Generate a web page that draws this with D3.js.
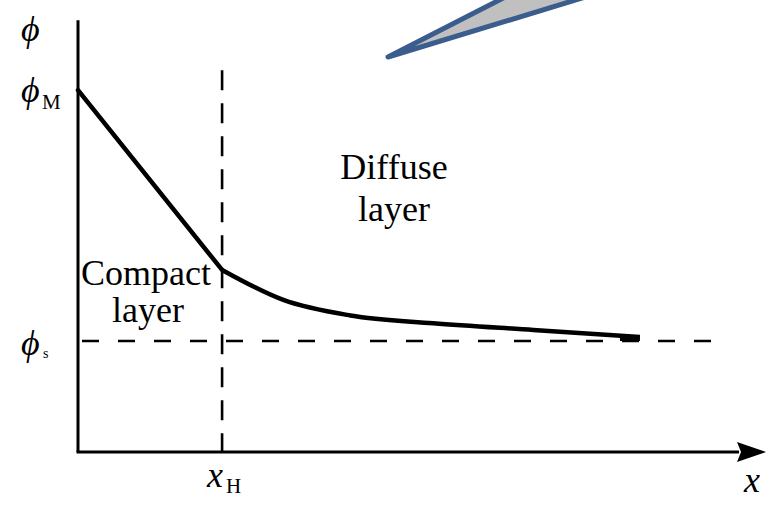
<!DOCTYPE html>
<html>
<head>
<meta charset="utf-8">
<script src="https://cdn.jsdelivr.net/npm/d3@7"></script>
<style>
  body { margin: 0; background: #fff; }
  svg { display: block; }
  text { font-family: "Liberation Serif", "Times New Roman", Times, "DejaVu Serif", serif; fill: #000; }
</style>
</head>
<body>
<div id="chart-container"></div>
<script>
// potential profile (arbitrary units)
const xH = 2.0;
const phiM = 3.26;
const phiS = 1.0;
const compactX = [0, 2.0];
const compactPhi = [3.26, 1.64];
const diffuseX = [2.0, 2.85, 3.78, 4.93, 6.32, 7.8];
const diffusePhi = [1.64, 1.37, 1.23, 1.16, 1.10, 1.036];
const xAxisMax = 9.55;
const yAxisMax = 3.89;
const guideEndX = 8.91;
const guideTopPhi = 3.44;

const svgWidth = 769;
const svgHeight = 505;

const svg = d3.select('#chart-container')
  .append('svg')
  .attr('width', svgWidth)
  .attr('height', svgHeight);

const xScale = d3.scaleLinear().domain([0, xAxisMax]).range([78, 766]);
const yScale = d3.scaleLinear().domain([0, 4]).range([452, 8]);

// pointer shape at the top
svg.append('polygon')
  .attr('points', '388,57 515,-8 615,-12')
  .attr('fill', '#c0c0c0')
  .attr('stroke', '#3a5d8d')
  .attr('stroke-width', 5)
  .attr('stroke-linejoin', 'round');

// dashed guides
svg.append('line')
  .attr('x1', xScale(xH)).attr('x2', xScale(xH))
  .attr('y1', yScale(guideTopPhi)).attr('y2', yScale(0))
  .attr('stroke', '#000').attr('stroke-width', 2.6)
  .attr('stroke-dasharray', '20,13');

svg.append('line')
  .attr('x1', xScale(0) + 4).attr('x2', xScale(guideEndX))
  .attr('y1', yScale(phiS)).attr('y2', yScale(phiS))
  .attr('stroke', '#000').attr('stroke-width', 2.6)
  .attr('stroke-dasharray', '17,19');

// axes
svg.append('line')
  .attr('x1', xScale(0)).attr('x2', xScale(0))
  .attr('y1', yScale(yAxisMax)).attr('y2', yScale(0))
  .attr('stroke', '#000').attr('stroke-width', 3);

const arrowLen = 29;
svg.append('line')
  .attr('x1', xScale(0) - 1.5).attr('x2', xScale(xAxisMax) - arrowLen + 2)
  .attr('y1', yScale(0)).attr('y2', yScale(0))
  .attr('stroke', '#000').attr('stroke-width', 3);

const tipX = xScale(xAxisMax), tipY = yScale(0);
svg.append('path')
  .attr('d', `M${tipX},${tipY} L${tipX - arrowLen},${tipY - 10} L${tipX - arrowLen + 4},${tipY} L${tipX - arrowLen},${tipY + 10} Z`)
  .attr('fill', '#000');

// curve
const compact = d3.line()
  .x((d, i) => xScale(compactX[i]))
  .y(d => yScale(d));

svg.append('path')
  .attr('d', compact(compactPhi))
  .attr('fill', 'none')
  .attr('stroke', '#000')
  .attr('stroke-width', 4.5)
  .attr('stroke-linecap', 'round');

const diffuse = d3.line()
  .x((d, i) => xScale(diffuseX[i]))
  .y(d => yScale(d))
  .curve(d3.curveMonotoneX);

svg.append('path')
  .attr('d', diffuse(diffusePhi))
  .attr('fill', 'none')
  .attr('stroke', '#000')
  .attr('stroke-width', 4.5)
  .attr('stroke-linecap', 'butt');

// thick end of the curve
const n = diffuseX.length;
svg.append('line')
  .attr('x1', xScale(diffuseX[n - 1]) - 20).attr('x2', xScale(diffuseX[n - 1]))
  .attr('y1', yScale(diffusePhi[n - 1]) + 1).attr('y2', yScale(diffusePhi[n - 1]) + 1)
  .attr('stroke', '#000').attr('stroke-width', 6);

// labels
function label(x, y, txt, size, italic, anchor) {
  return svg.append('text')
    .attr('x', x).attr('y', y)
    .attr('font-size', size)
    .attr('font-style', italic ? 'italic' : 'normal')
    .attr('text-anchor', anchor || 'start')
    .text(txt);
}

label(21, 41, '\u03D5', 36, true);
label(21, yScale(phiM) + 12, '\u03D5', 36, true);
label(42, yScale(phiM) + 19, 'M', 21, false);
label(21, yScale(phiS) + 14, '\u03D5', 36, true);
label(43, yScale(phiS) + 17, 's', 14, false);

label(xScale(xH) - 15, 487, 'x', 36, true);
label(xScale(xH) + 4, 493, 'H', 21, false);
label(744, 492, 'x', 36, true);

label(394, 179, 'Diffuse', 36, false, 'middle');
label(394, 221, 'layer', 36, false, 'middle');
label(146, 285, 'Compact', 36, false, 'middle');
label(148, 322, 'layer', 36, false, 'middle');
</script>
</body>
</html>
